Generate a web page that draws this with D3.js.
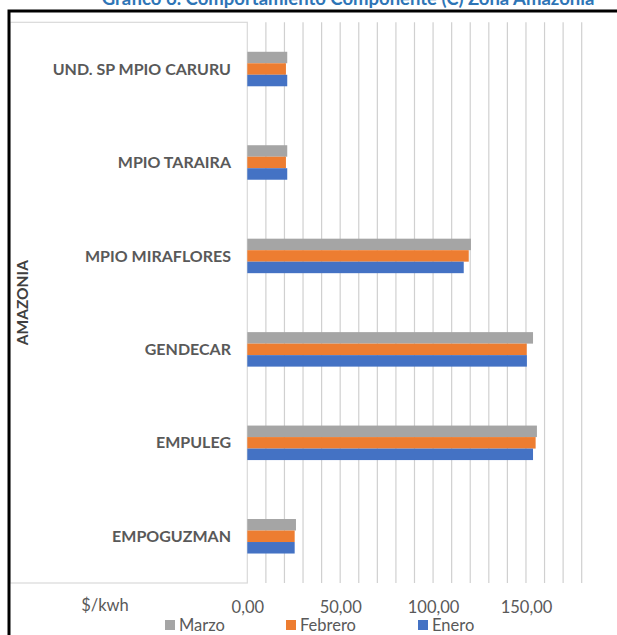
<!DOCTYPE html>
<html>
<head>
<meta charset="utf-8">
<script src="https://cdn.jsdelivr.net/npm/d3@7"></script>
<style>
  html, body { margin: 0; padding: 0; background: #fff; }
  svg { display: block; }
  text { font-family: Lato, "Open Sans", sans-serif; }
</style>
</head>
<body>
<div id="chart"></div>
<script>
// ---- data ----
const title = "Gráfico 6. Comportamiento Componente (C) Zona Amazonia";
const groupLabel = "AMAZONIA";
const unitLabel = "$/kwh";
const categories = ["UND. SP MPIO CARURU", "MPIO TARAIRA", "MPIO MIRAFLORES", "GENDECAR", "EMPULEG", "EMPOGUZMAN"];
const seriesNames = ["Marzo", "Febrero", "Enero"];
const marzo   = [21.5, 21.5, 120.4, 153.8, 155.9, 26.2];
const febrero = [20.8, 20.8, 119.2, 150.4, 155.2, 25.5];
const enero   = [21.5, 21.5, 116.5, 150.5, 153.8, 25.5];
const tickValues = [0, 50, 100, 150];
const axisMax = 180;

// ---- layout ----
const W = 617, H = 635;
const colors = { Marzo: "#A5A5A5", Febrero: "#ED7D31", Enero: "#4472C4" };
const plot = { left: 247.3, right: 581.7, top: 22.3, bottom: 583 };

const svg = d3.select("#chart").append("svg").attr("width", W).attr("height", H);
svg.append("rect").attr("width", W).attr("height", H).attr("fill", "#fff");

// title (cut at top, as in the reference)
svg.append("text").attr("x", 348).attr("y", 4.5).attr("text-anchor", "middle")
  .attr("font-size", 18.5).attr("font-weight", "bold").attr("fill", "#2E75B6").text(title);

const x = d3.scaleLinear().domain([0, axisMax]).range([plot.left, plot.right]);
const y = d3.scaleBand().domain(categories).range([plot.top, plot.bottom]);
const groupH = 34.5;
const ys = d3.scaleBand().domain(seriesNames)
  .range([(y.bandwidth() - groupH) / 2, (y.bandwidth() + groupH) / 2]);

// gridlines
svg.append("g").selectAll("line").data(x.ticks(18).filter(d => d > 0)).join("line")
  .attr("x1", d => x(d)).attr("x2", d => x(d))
  .attr("y1", plot.top).attr("y2", plot.bottom)
  .attr("stroke", "#D0D0D0").attr("stroke-width", 1.2);

// category label box
svg.append("rect").attr("x", 10).attr("y", plot.top)
  .attr("width", plot.left - 10).attr("height", plot.bottom - plot.top)
  .attr("fill", "none").attr("stroke", "#D9D9D9").attr("stroke-width", 1.2);

// bars
const data = categories.map((c, i) => ({ c, vals: [
  { s: "Marzo", v: marzo[i] }, { s: "Febrero", v: febrero[i] }, { s: "Enero", v: enero[i] }] }));
const g = svg.append("g").selectAll("g").data(data).join("g")
  .attr("transform", d => `translate(0,${y(d.c)})`);
g.selectAll("rect").data(d => d.vals).join("rect")
  .attr("x", x(0)).attr("y", d => ys(d.s))
  .attr("width", d => x(d.v) - x(0)).attr("height", ys.bandwidth())
  .attr("fill", d => colors[d.s]);

// category labels
svg.append("g").selectAll("text").data(categories).join("text")
  .attr("x", 231).attr("y", d => y(d) + y.bandwidth() / 2)
  .attr("dy", "0.35em").attr("text-anchor", "end")
  .attr("font-size", 16).attr("font-weight", "bold").attr("fill", "#595959")
  .text(d => d);

// group label
svg.append("text").attr("transform", `translate(28,${(plot.top + plot.bottom) / 2}) rotate(-90)`)
  .attr("text-anchor", "middle").attr("font-size", 15.5).attr("font-weight", "bold")
  .attr("fill", "#404040").text(groupLabel);

// x axis tick labels
const fmt = d3.formatLocale({ decimal: ",", thousands: ".", grouping: [3], currency: ["$", ""] }).format(".2f");
const axis = d3.axisBottom(x).tickValues(tickValues).tickFormat(fmt).tickSize(0).tickPadding(0);
const ax = svg.append("g").attr("transform", `translate(0,598.5)`).call(axis);
ax.select(".domain").remove();
ax.selectAll("text").attr("font-size", 16.5).attr("fill", "#595959")
  .attr("font-family", "Lato, sans-serif").attr("dy", "0.85em");

svg.append("text").attr("x", 105).attr("y", 611).attr("text-anchor", "middle")
  .attr("font-size", 16.5).attr("fill", "#595959").text(unitLabel);

// legend
const legendX = { Marzo: 165, Febrero: 286, Enero: 418 };
const lg = svg.append("g").selectAll("g").data(seriesNames).join("g")
  .attr("transform", d => `translate(${legendX[d]},620)`);
lg.append("rect").attr("width", 10).attr("height", 10).attr("fill", d => colors[d]);
lg.append("text").attr("x", 14).attr("y", 11).attr("font-size", 16.5).attr("fill", "#595959").text(d => d);

// outer frame (partial)
svg.append("path").attr("d", `M9,${H} V11 H${W}`).attr("fill", "none")
  .attr("stroke", "#000").attr("stroke-width", 3);
</script>
</body>
</html>
